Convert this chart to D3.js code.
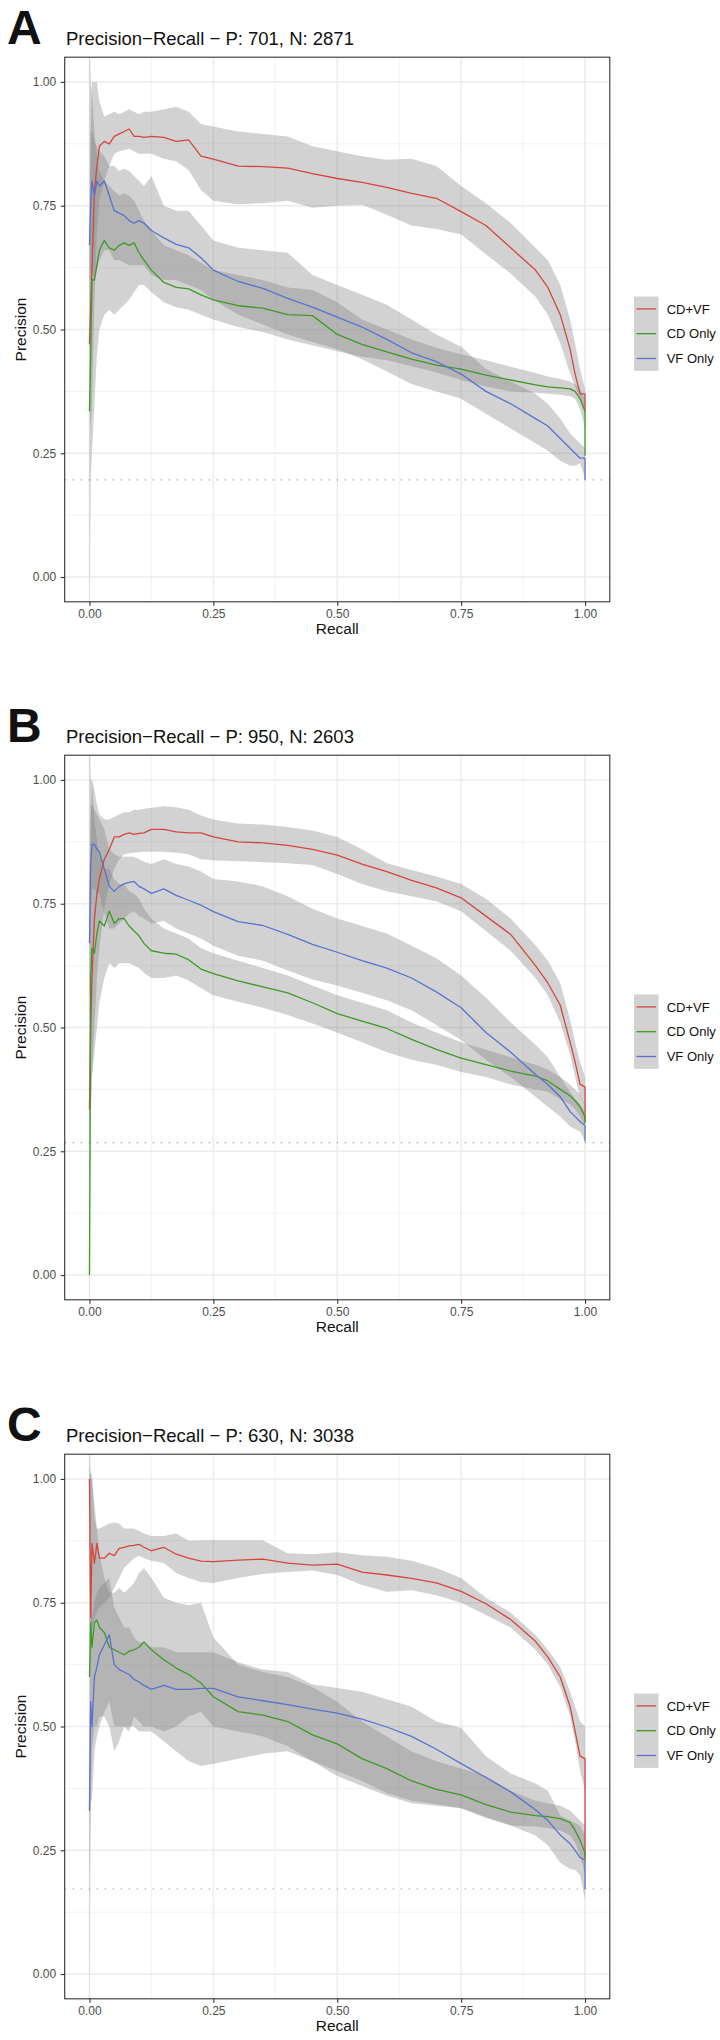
<!DOCTYPE html>
<html><head><meta charset="utf-8">
<script src="https://cdn.jsdelivr.net/npm/d3@7"></script>
<style>
body{margin:0;background:#fff}
svg{display:block}
text{font-family:"Liberation Sans",Arial,Helvetica,sans-serif}
</style>
</head><body>
<svg id="chart" width="720" height="2040"></svg>
<script>
// ---------------- DATA ----------------
const panelLetters = ["A", "B", "C"];
const positives = [701, 950, 630];
const negatives = [2871, 2603, 3038];
const seriesNames = ["CD+VF", "CD Only", "VF Only"];
const seriesColors = ["#D6453D", "#3C9A25", "#5B71D0"];
const xTicks = [0, 0.25, 0.5, 0.75, 1];
const yTicks = [0, 0.25, 0.5, 0.75, 1];

const recall = [0, 0.0025, 0.005, 0.01, 0.015, 0.02, 0.03, 0.04, 0.05, 0.06, 0.07, 0.08, 0.09, 0.1, 0.11, 0.125, 0.15, 0.175, 0.2, 0.225, 0.25, 0.3, 0.35, 0.4, 0.45, 0.5, 0.55, 0.6, 0.65, 0.7, 0.75, 0.8, 0.85, 0.9, 0.925, 0.95, 0.97, 0.98, 0.99, 1.0, 1.0];

// Panel A
const aPrecCDVF = [0.47, 0.55, 0.62, 0.78, 0.83, 0.87, 0.88, 0.875, 0.89, 0.895, 0.9, 0.905, 0.89, 0.89, 0.888, 0.89, 0.888, 0.88, 0.883, 0.85, 0.844, 0.83, 0.829, 0.826, 0.815, 0.805, 0.797, 0.787, 0.775, 0.765, 0.738, 0.71, 0.665, 0.62, 0.585, 0.53, 0.46, 0.41, 0.37, 0.37, 0.335];
const aHiCDVF = [0.6, 0.9, 1.0, 1.0, 1.0, 0.96, 0.93, 0.935, 0.94, 0.935, 0.94, 0.945, 0.94, 0.935, 0.94, 0.94, 0.945, 0.95, 0.94, 0.915, 0.91, 0.9, 0.895, 0.89, 0.87, 0.86, 0.85, 0.843, 0.845, 0.83, 0.79, 0.755, 0.715, 0.665, 0.64, 0.59, 0.52, 0.47, 0.42, 0.38, 0.34];
const aLoCDVF = [0.35, 0.3, 0.35, 0.55, 0.7, 0.76, 0.8, 0.83, 0.855, 0.86, 0.862, 0.865, 0.86, 0.855, 0.855, 0.855, 0.845, 0.84, 0.822, 0.782, 0.76, 0.753, 0.755, 0.76, 0.746, 0.75, 0.752, 0.732, 0.71, 0.703, 0.692, 0.652, 0.613, 0.566, 0.53, 0.472, 0.41, 0.385, 0.36, 0.33, 0.3];
const aPrecCD = [0.335, 0.45, 0.6, 0.6, 0.63, 0.66, 0.68, 0.665, 0.66, 0.67, 0.675, 0.67, 0.675, 0.655, 0.64, 0.62, 0.595, 0.585, 0.582, 0.57, 0.56, 0.548, 0.543, 0.53, 0.528, 0.49, 0.47, 0.455, 0.44, 0.428, 0.42, 0.408, 0.398, 0.388, 0.384, 0.382, 0.38, 0.375, 0.36, 0.335, 0.245];
const aHiCD = [1.1, 1.0, 0.98, 0.9, 0.85, 0.82, 0.8, 0.79, 0.78, 0.77, 0.775, 0.77, 0.76, 0.74, 0.72, 0.7, 0.67, 0.66, 0.65, 0.635, 0.62, 0.61, 0.6, 0.585, 0.58, 0.555, 0.52, 0.5, 0.48, 0.463, 0.45, 0.438, 0.425, 0.412, 0.405, 0.4, 0.395, 0.39, 0.38, 0.36, 0.27];
const aLoCD = [-0.1, 0.2, 0.25, 0.35, 0.45, 0.5, 0.53, 0.54, 0.53, 0.54, 0.55, 0.56, 0.575, 0.59, 0.59, 0.575, 0.555, 0.545, 0.54, 0.53, 0.52, 0.505, 0.495, 0.48, 0.468, 0.456, 0.445, 0.438, 0.426, 0.413, 0.398, 0.385, 0.375, 0.372, 0.37, 0.368, 0.365, 0.36, 0.34, 0.3, 0.23];
const aPrecVF = [0.67, 0.75, 0.8, 0.77, 0.8, 0.79, 0.8, 0.77, 0.74, 0.735, 0.73, 0.72, 0.715, 0.72, 0.715, 0.7, 0.685, 0.672, 0.665, 0.645, 0.62, 0.597, 0.583, 0.563, 0.545, 0.525, 0.505, 0.48, 0.453, 0.435, 0.41, 0.375, 0.35, 0.32, 0.305, 0.28, 0.26, 0.25, 0.24, 0.24, 0.196];
const aHiVF = [0.75, 0.9, 0.9, 0.88, 0.87, 0.86, 0.85, 0.83, 0.83, 0.82, 0.825, 0.82, 0.81, 0.8, 0.79, 0.81, 0.75, 0.74, 0.74, 0.71, 0.68, 0.665, 0.66, 0.655, 0.61, 0.59, 0.57, 0.55, 0.52, 0.49, 0.465, 0.42, 0.395, 0.37, 0.35, 0.32, 0.29, 0.28, 0.27, 0.26, 0.2];
const aLoVF = [0.6, 0.6, 0.62, 0.6, 0.62, 0.64, 0.66, 0.66, 0.64, 0.64, 0.635, 0.63, 0.63, 0.63, 0.63, 0.61, 0.6, 0.6, 0.59, 0.58, 0.56, 0.53, 0.51, 0.49, 0.475, 0.46, 0.44, 0.415, 0.39, 0.375, 0.36, 0.33, 0.3, 0.27, 0.255, 0.235, 0.225, 0.225, 0.23, 0.2, 0.19];

// Panel B
const bPrecCDVF = [0.335, 0.5, 0.6, 0.72, 0.77, 0.8, 0.84, 0.86, 0.885, 0.885, 0.89, 0.893, 0.89, 0.892, 0.893, 0.9, 0.9, 0.895, 0.893, 0.893, 0.885, 0.875, 0.873, 0.868, 0.86, 0.848, 0.83, 0.815, 0.797, 0.782, 0.762, 0.725, 0.688, 0.625, 0.59, 0.545, 0.47, 0.43, 0.385, 0.38, 0.31];
const bHiCDVF = [0.5, 0.9, 1.0, 0.98, 0.95, 0.93, 0.92, 0.92, 0.925, 0.93, 0.935, 0.935, 0.94, 0.94, 0.942, 0.944, 0.947, 0.945, 0.94, 0.928, 0.92, 0.912, 0.91, 0.905, 0.898, 0.885, 0.86, 0.832, 0.818, 0.805, 0.79, 0.76, 0.72, 0.666, 0.635, 0.59, 0.515, 0.47, 0.43, 0.4, 0.33];
const bLoCDVF = [0.3, 0.35, 0.4, 0.5, 0.6, 0.66, 0.74, 0.79, 0.82, 0.84, 0.85, 0.852, 0.853, 0.854, 0.855, 0.855, 0.855, 0.853, 0.85, 0.84, 0.838, 0.836, 0.834, 0.832, 0.828, 0.81, 0.79, 0.775, 0.765, 0.755, 0.735, 0.695, 0.655, 0.6, 0.565, 0.51, 0.445, 0.4, 0.36, 0.34, 0.29];
const bPrecCD = [0.0, 0.6, 0.66, 0.65, 0.69, 0.715, 0.705, 0.735, 0.71, 0.72, 0.72, 0.705, 0.695, 0.685, 0.67, 0.655, 0.65, 0.648, 0.637, 0.618, 0.609, 0.594, 0.582, 0.57, 0.55, 0.528, 0.513, 0.498, 0.476, 0.456, 0.438, 0.425, 0.412, 0.402, 0.392, 0.375, 0.362, 0.352, 0.34, 0.32, 0.306];
const bHiCD = [1.1, 1.0, 1.0, 0.92, 0.88, 0.85, 0.82, 0.82, 0.8, 0.79, 0.79, 0.775, 0.77, 0.76, 0.74, 0.72, 0.7, 0.69, 0.68, 0.66, 0.65, 0.635, 0.62, 0.605, 0.585, 0.565, 0.55, 0.535, 0.51, 0.49, 0.47, 0.455, 0.44, 0.425, 0.415, 0.4, 0.385, 0.375, 0.365, 0.34, 0.32];
const bLoCD = [-0.1, 0.3, 0.4, 0.45, 0.5, 0.55, 0.6, 0.63, 0.62, 0.63, 0.63, 0.63, 0.625, 0.62, 0.61, 0.6, 0.6, 0.605, 0.595, 0.58, 0.565, 0.552, 0.54, 0.525, 0.508, 0.49, 0.47, 0.45, 0.435, 0.425, 0.41, 0.4, 0.385, 0.375, 0.37, 0.355, 0.345, 0.335, 0.32, 0.3, 0.29];
const bPrecVF = [0.67, 0.83, 0.87, 0.87, 0.86, 0.855, 0.82, 0.785, 0.775, 0.785, 0.79, 0.793, 0.795, 0.785, 0.78, 0.771, 0.78, 0.767, 0.757, 0.747, 0.734, 0.714, 0.706, 0.688, 0.668, 0.652, 0.635, 0.62, 0.6, 0.572, 0.54, 0.49, 0.45, 0.405, 0.385, 0.36, 0.33, 0.32, 0.31, 0.302, 0.27];
const bHiVF = [0.8, 0.95, 0.95, 0.94, 0.93, 0.92, 0.9, 0.86, 0.85, 0.845, 0.845, 0.845, 0.845, 0.84, 0.835, 0.83, 0.84, 0.83, 0.825, 0.815, 0.8, 0.795, 0.785, 0.765, 0.74, 0.72, 0.705, 0.69, 0.665, 0.64, 0.605, 0.56, 0.51, 0.465, 0.44, 0.4, 0.37, 0.355, 0.345, 0.33, 0.28];
const bLoVF = [0.5, 0.72, 0.78, 0.78, 0.77, 0.77, 0.73, 0.7, 0.7, 0.71, 0.72, 0.73, 0.735, 0.725, 0.72, 0.71, 0.715, 0.7, 0.69, 0.68, 0.665, 0.645, 0.635, 0.615, 0.597, 0.585, 0.57, 0.555, 0.535, 0.505, 0.475, 0.435, 0.4, 0.36, 0.34, 0.32, 0.3, 0.295, 0.29, 0.27, 0.26];

// Panel C
const cPrecCDVF = [1.0, 0.72, 0.87, 0.83, 0.87, 0.84, 0.84, 0.85, 0.845, 0.86, 0.862, 0.865, 0.866, 0.868, 0.862, 0.855, 0.862, 0.848, 0.84, 0.834, 0.833, 0.836, 0.838, 0.83, 0.826, 0.828, 0.812, 0.806, 0.799, 0.79, 0.773, 0.748, 0.716, 0.672, 0.64, 0.6, 0.54, 0.49, 0.44, 0.435, 0.23];
const cHiCDVF = [1.02, 1.01, 1.01, 0.92, 0.9, 0.9, 0.905, 0.91, 0.912, 0.91, 0.9, 0.9, 0.9, 0.895, 0.89, 0.885, 0.885, 0.89, 0.875, 0.876, 0.876, 0.876, 0.876, 0.85, 0.848, 0.852, 0.846, 0.843, 0.835, 0.82, 0.8, 0.76, 0.73, 0.685, 0.655, 0.62, 0.57, 0.54, 0.51, 0.5, 0.45];
const cLoCDVF = [0.7, 0.6, 0.7, 0.72, 0.73, 0.74, 0.75, 0.76, 0.78, 0.8, 0.82, 0.83, 0.84, 0.845, 0.84, 0.835, 0.83, 0.81, 0.8, 0.792, 0.79, 0.8, 0.808, 0.812, 0.815, 0.806, 0.786, 0.772, 0.775, 0.765, 0.75, 0.725, 0.7, 0.655, 0.625, 0.58, 0.52, 0.47, 0.41, 0.37, 0.2];
const cPrecCD = [0.6, 0.71, 0.66, 0.71, 0.715, 0.7, 0.69, 0.66, 0.655, 0.65, 0.645, 0.652, 0.655, 0.66, 0.671, 0.655, 0.635, 0.618, 0.605, 0.588, 0.56, 0.53, 0.523, 0.51, 0.483, 0.465, 0.435, 0.415, 0.39, 0.373, 0.362, 0.342, 0.327, 0.32, 0.318, 0.314, 0.306, 0.29, 0.27, 0.245, 0.235];
const cHiCD = [1.1, 1.0, 1.0, 0.95, 0.9, 0.85, 0.8, 0.77, 0.77, 0.78, 0.77, 0.78, 0.79, 0.81, 0.82, 0.8, 0.76, 0.75, 0.745, 0.75, 0.68, 0.625, 0.61, 0.6, 0.58, 0.55, 0.51, 0.48, 0.45, 0.43, 0.415, 0.4, 0.37, 0.35, 0.345, 0.34, 0.33, 0.32, 0.31, 0.3, 0.26];
const cLoCD = [-0.1, 0.35, 0.45, 0.5, 0.5, 0.52, 0.52, 0.5, 0.45, 0.47, 0.5, 0.49, 0.52, 0.51, 0.5, 0.5, 0.49, 0.5, 0.52, 0.53, 0.5, 0.49, 0.48, 0.46, 0.43, 0.41, 0.39, 0.365, 0.35, 0.343, 0.335, 0.315, 0.3, 0.298, 0.295, 0.29, 0.28, 0.265, 0.24, 0.2, 0.2];
const cPrecVF = [0.33, 0.55, 0.5, 0.6, 0.62, 0.645, 0.665, 0.685, 0.625, 0.615, 0.61, 0.605, 0.595, 0.59, 0.583, 0.575, 0.583, 0.575, 0.575, 0.577, 0.577, 0.56, 0.552, 0.544, 0.535, 0.527, 0.515, 0.499, 0.48, 0.454, 0.425, 0.397, 0.368, 0.332, 0.31, 0.281, 0.263, 0.25, 0.235, 0.23, 0.172];
const cHiVF = [0.5, 0.75, 0.72, 0.75, 0.77, 0.78, 0.79, 0.8, 0.74, 0.72, 0.7, 0.7, 0.68, 0.67, 0.67, 0.66, 0.66, 0.65, 0.65, 0.65, 0.65, 0.63, 0.615, 0.61, 0.585, 0.578, 0.57, 0.555, 0.54, 0.51, 0.497, 0.44, 0.405, 0.385, 0.37, 0.32, 0.31, 0.305, 0.3, 0.28, 0.2];
const cLoVF = [0.2, 0.35, 0.35, 0.45, 0.48, 0.5, 0.53, 0.55, 0.5, 0.5, 0.5, 0.5, 0.5, 0.49, 0.49, 0.49, 0.47, 0.45, 0.43, 0.42, 0.425, 0.435, 0.445, 0.45, 0.43, 0.4, 0.38, 0.36, 0.345, 0.34, 0.335, 0.317, 0.3, 0.28, 0.26, 0.225, 0.212, 0.21, 0.2, 0.15, 0.15];

// ---------------- BUILD ----------------
const panelData = [
  [[aPrecCDVF, aHiCDVF, aLoCDVF], [aPrecCD, aHiCD, aLoCD], [aPrecVF, aHiVF, aLoVF]],
  [[bPrecCDVF, bHiCDVF, bLoCDVF], [bPrecCD, bHiCD, bLoCD], [bPrecVF, bHiVF, bLoVF]],
  [[cPrecCDVF, cHiCDVF, cLoCDVF], [cPrecCD, cHiCD, cLoCD], [cPrecVF, cHiVF, cLoVF]]
];

const svg = d3.select("#chart");
const panelOffsets = [0, 698, 1397];
const L = 64.7, R = 609.8, T = 57.2, B = 601.8;
const fmt = d3.format(".2f");

panelLetters.forEach((letter, i) => {
  const g = svg.append("g").attr("transform", `translate(0,${panelOffsets[i]})`);
  const x = d3.scaleLinear().domain([-0.05, 1.05]).range([L, R]);
  const y = d3.scaleLinear().domain([-0.05, 1.05]).range([B, T]);

  // letter + title
  g.append("text").attr("x", 7).attr("y", 44).attr("font-size", 48).attr("font-weight", "bold")
    .attr("fill", "#111").text(letter);
  g.append("text").attr("x", 66).attr("y", 45).attr("font-size", 18.5).attr("fill", "#111")
    .text(`Precision\u2212Recall \u2212 P: ${positives[i]}, N: ${negatives[i]}`);

  // panel background
  g.append("rect").attr("x", L).attr("y", T).attr("width", R - L).attr("height", B - T).attr("fill", "#fff");

  // grid
  const minor = [0.125, 0.375, 0.625, 0.875];
  const grid = g.append("g");
  minor.forEach(v => {
    grid.append("line").attr("x1", x(v)).attr("x2", x(v)).attr("y1", T).attr("y2", B)
      .attr("stroke", "#efefef").attr("stroke-width", 0.8);
    grid.append("line").attr("x1", L).attr("x2", R).attr("y1", y(v)).attr("y2", y(v))
      .attr("stroke", "#efefef").attr("stroke-width", 0.8);
  });
  xTicks.forEach(v => grid.append("line").attr("x1", x(v)).attr("x2", x(v)).attr("y1", T).attr("y2", B)
    .attr("stroke", "#ebebeb").attr("stroke-width", 1.5));
  yTicks.forEach(v => grid.append("line").attr("x1", L).attr("x2", R).attr("y1", y(v)).attr("y2", y(v))
    .attr("stroke", "#ebebeb").attr("stroke-width", 1.5));

  // clip
  const clipId = "clip" + i;
  g.append("clipPath").attr("id", clipId).append("rect")
    .attr("x", L).attr("y", T).attr("width", R - L).attr("height", B - T);
  const plot = g.append("g").attr("clip-path", `url(#${clipId})`);

  const series = panelData[i].map((arr, k) => recall.map((r, j) => ({ r, p: arr[0][j], hi: arr[1][j], lo: arr[2][j], k })));

  const area = d3.area().x(d => x(d.r)).y0(d => y(d.lo)).y1(d => y(d.hi));
  const line = d3.line().x(d => x(d.r)).y(d => y(d.p));

  series.forEach(s => {
    plot.append("path").attr("d", area(s)).attr("fill", "#7f7f7f").attr("fill-opacity", 0.35);
  });

  // baseline prevalence
  const base = positives[i] / (positives[i] + negatives[i]);
  plot.append("line").attr("x1", L).attr("x2", R).attr("y1", y(base)).attr("y2", y(base))
    .attr("stroke", "#a0a0a0").attr("stroke-width", 1.2).attr("stroke-dasharray", "1.4,6.6");

  series.forEach((s, k) => {
    plot.append("path").attr("d", line(s)).attr("fill", "none")
      .attr("stroke", seriesColors[k]).attr("stroke-width", 1.3).attr("stroke-linejoin", "round");
  });

  // border
  g.append("rect").attr("x", L).attr("y", T).attr("width", R - L).attr("height", B - T)
    .attr("fill", "none").attr("stroke", "#333").attr("stroke-width", 1.1);

  // axes
  const xa = g.append("g").attr("transform", `translate(0,${B})`)
    .call(d3.axisBottom(x).tickValues(xTicks).tickFormat(fmt).tickSize(4).tickPadding(4));
  const ya = g.append("g").attr("transform", `translate(${L},0)`)
    .call(d3.axisLeft(y).tickValues(yTicks).tickFormat(fmt).tickSize(4).tickPadding(4.5));
  [xa, ya].forEach(a => {
    a.select(".domain").remove();
    a.selectAll(".tick line").attr("stroke", "#333").attr("stroke-width", 1.1);
    a.selectAll(".tick text").attr("fill", "#4d4d4d").attr("font-size", 12)
      .attr("font-family", '"Liberation Sans",Arial,Helvetica,sans-serif');
  });

  g.append("text").attr("x", (L + R) / 2).attr("y", 634).attr("text-anchor", "middle")
    .attr("font-size", 15.5).attr("fill", "#111").text("Recall");
  g.append("text").attr("transform", `translate(25.5,${(T + B) / 2}) rotate(-90)`)
    .attr("text-anchor", "middle").attr("font-size", 15.5).attr("fill", "#111").text("Precision");

  // legend
  const lg = g.append("g").attr("transform", "translate(634,296.5)");
  const keyH = 24.8, keyW = 24.5;
  seriesNames.forEach((name, k) => {
    lg.append("rect").attr("x", 0).attr("y", k * keyH).attr("width", keyW).attr("height", keyH)
      .attr("fill", "#7f7f7f").attr("fill-opacity", 0.35);
    lg.append("line").attr("x1", 2.5).attr("x2", 22).attr("y1", k * keyH + keyH / 2).attr("y2", k * keyH + keyH / 2)
      .attr("stroke", seriesColors[k]).attr("stroke-width", 1.3);
    lg.append("text").attr("x", 32.7).attr("y", k * keyH + keyH / 2 + 4.6).attr("font-size", 13)
      .attr("fill", "#111").text(name);
  });
});
</script>
</body></html>
